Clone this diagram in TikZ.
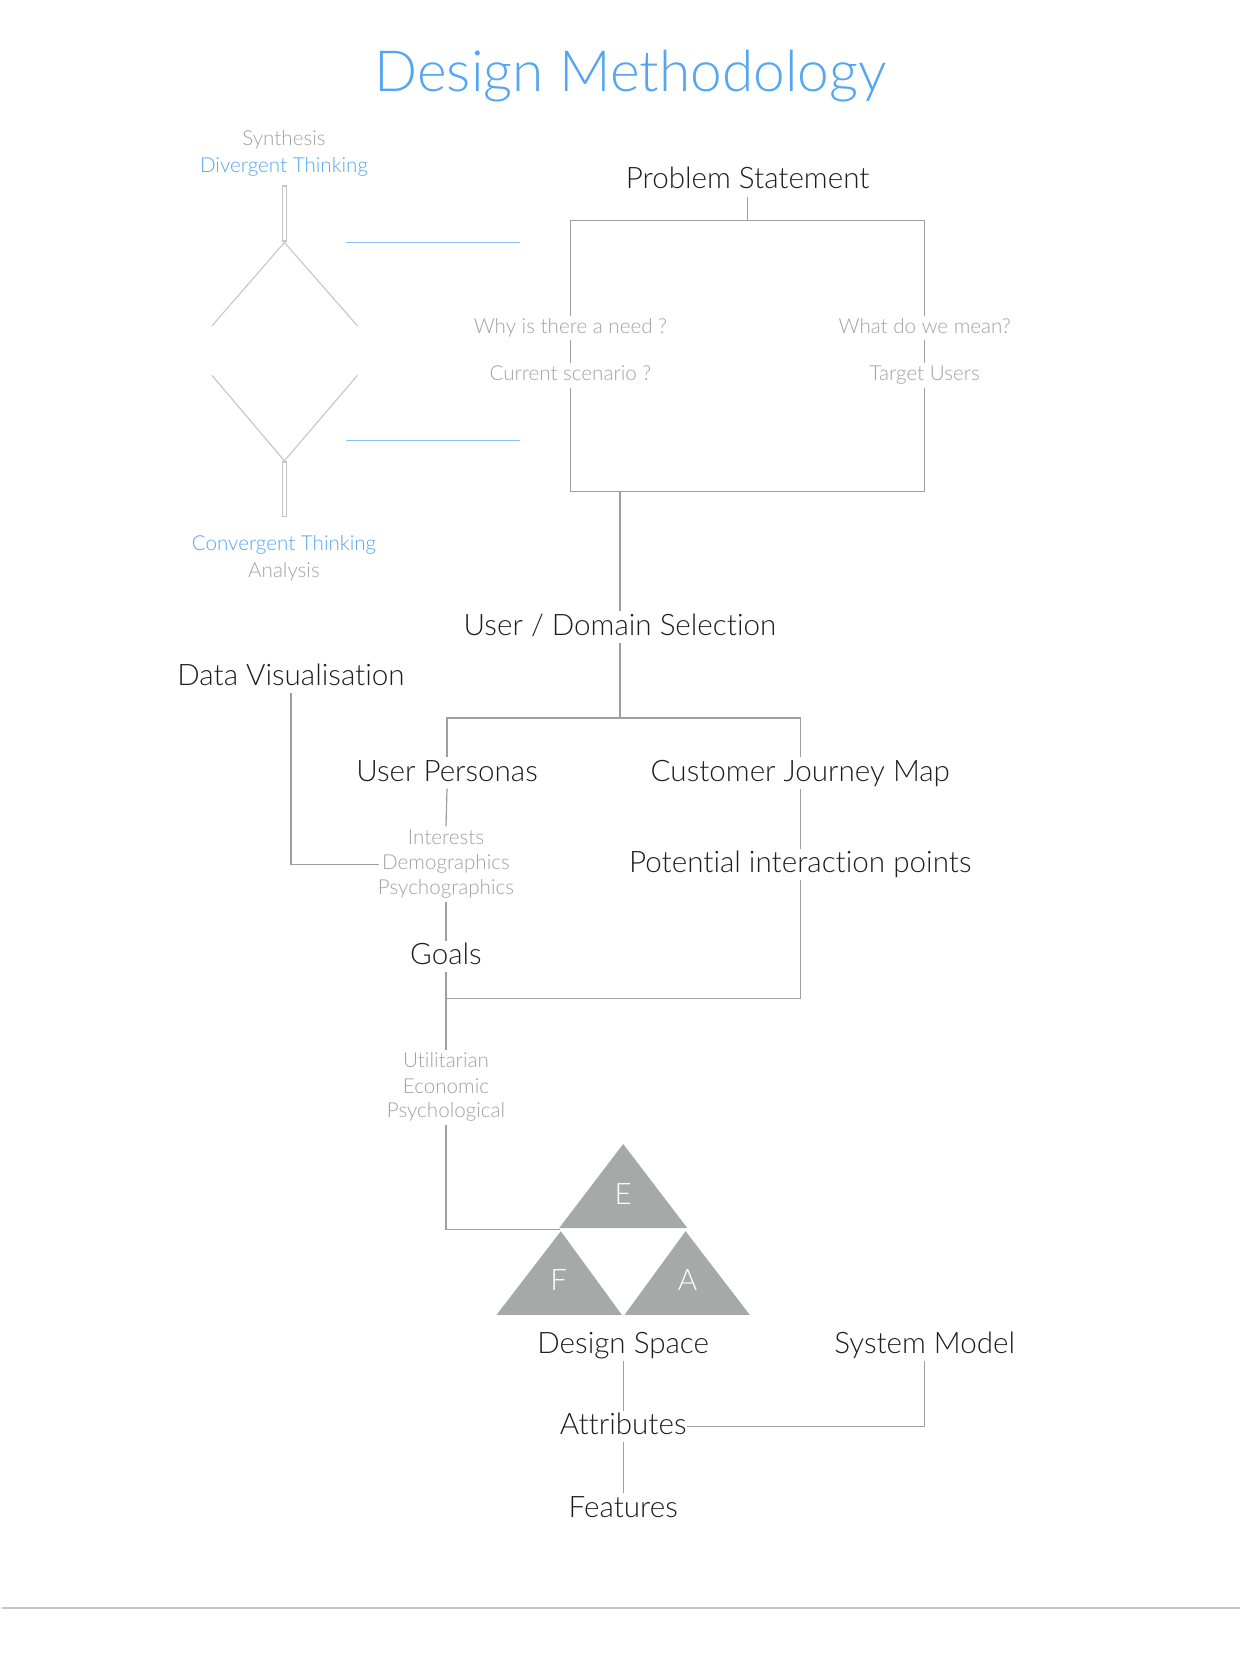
\documentclass[tikz,border=0pt]{standalone}
\usepackage{fontspec}
\setmainfont{Lato Light}[Ligatures=NoCommon]
\definecolor{headC}{HTML}{1E1E1E}
\definecolor{subC}{HTML}{A2A2A2}
\definecolor{blueC}{HTML}{55A6F2}
\definecolor{lineC}{HTML}{9E9E9E}
\definecolor{faintC}{HTML}{C6C6C6}
\definecolor{triC}{HTML}{A6A9A8}
\begin{document}
\begin{tikzpicture}[x=0.5pt,y=-0.5pt,
  head/.style={font=\fontsize{14.8}{18}\selectfont, text=headC, inner xsep=2pt, inner ysep=3pt, text height=0.86em, text depth=0.06em},
  sub/.style={font=\fontsize{10.3}{12}\selectfont, text=subC, fill=white, inner xsep=1.5pt, inner ysep=1.5pt, text height=0.72em, text depth=0.2em},
  bluet/.style={sub, text=blueC},
  conn/.style={draw=lineC, line width=0.6pt},
  faint/.style={draw=faintC, line width=0.55pt},
  bluel/.style={draw=blueC!70, line width=0.6pt},
  tri/.style={fill=triC},
  trilab/.style={font=\fontsize{14.8}{18}\selectfont, text=white, inner sep=0pt}
]
\useasboundingbox (0,0) rectangle (1240,1653);
\fill[white] (0,0) rectangle (1240,1653);

% title
\node[font=\fontsize{28.4}{34}\selectfont, text=blueC, inner sep=0pt] (title) at (630.5,76) {Design Methodology};

% left thinking diagram
\node[sub] (synth) at (284,140) {Synthesis};
\node[bluet] (divt) at (284,167) {Divergent Thinking};
\draw[faint] (282.2,186) rectangle (286.6,241);
\draw[faint] (212,325.8) -- (284.4,242.5) -- (357.4,325.8);
\draw[faint] (212,375.4) -- (284.4,460.8) -- (357.4,375.4);
\draw[faint] (282.2,462) rectangle (286.6,516.7);
\draw[bluel] (346,242.5) -- (520,242.5);
\draw[bluel] (346,440.7) -- (520,440.7);
\node[bluet] (convt) at (284,545) {Convergent Thinking};
\node[sub] (anal) at (284,572) {Analysis};

% problem statement
\node[head] (ps) at (747.6,181) {Problem Statement};
\coordinate (bTL) at (570.4,220.4);
\coordinate (bBR) at (924.7,491.3);
\draw[conn] (bTL) rectangle (bBR);
\draw[conn] (ps.south) -- (ps.south |- bTL);
\node[sub] (why) at (570.4,328) {Why is there a need ?};
\node[sub] (cur) at (570.4,375.5) {Current scenario ?};
\node[sub] (what) at (924.7,328) {What do we mean?};
\node[sub] (tgt) at (924.7,375.5) {Target Users};

% user / domain selection
\node[head] (uds) at (620,627) {User / Domain Selection};
\draw[conn] (uds.north |- bBR) -- (uds.north);
\coordinate (jn1) at (620,718);
\draw[conn] (uds.south) -- (jn1);
\node[head] (up) at (447,773) {User Personas};
\node[head] (cjm) at (800.3,773) {Customer Journey Map};
\draw[conn] (up.north) -- (up.north |- jn1) -- (cjm.north |- jn1) -- (cjm.north);

\node[head] (dv) at (291,677) {Data Visualisation};
\node[sub] (int) at (446,839) {Interests};
\node[sub] (demo) at (446,864.5) {Demographics};
\node[sub] (psy) at (446,889) {Psychographics};
\draw[conn] (dv.south) |- (demo.west);
\draw[conn] (up.south) -- (int.north);
\node[head] (goals) at (446,956.5) {Goals};
\draw[conn] (psy.south) -- (goals.north);
\node[head] (pip) at (800.3,864.5) {Potential interaction points};
\draw[conn] (cjm.south) -- (pip.north);
\coordinate (jn2) at (446,998.5);
\draw[conn] (goals.south) -- (jn2) -| (pip.south);

\node[sub] (util) at (446,1062.5) {Utilitarian};
\node[sub] (econ) at (446,1088) {Economic};
\node[sub] (psyc) at (446,1112.5) {Psychological};
\draw[conn] (jn2) -- (util.north);

% design space triangles
\coordinate (tT) at (623.2,1144);
\coordinate (tL) at (496.6,1314.8);
\coordinate (tR) at (749.7,1314.8);
\coordinate (mL) at (559.9,1229.4);
\coordinate (mR) at (686.5,1229.4);
\coordinate (mB) at (623.2,1314.8);
\fill[tri] (tT) -- (559.0,1228.2) -- (687.4,1228.2) -- cycle;
\fill[tri] (560.8,1231.2) -- (tL) -- (621.8,1314.8) -- cycle;
\fill[tri] (685.6,1231.2) -- (624.6,1314.8) -- (tR) -- cycle;
\draw[conn] (psyc.south) |- (mL);
\node[trilab] (E) at (623.2,1194) {E};
\node[trilab] (F) at (558.8,1280.5) {F};
\node[trilab] (A) at (687.5,1280.5) {A};

\node[head] (ds) at (623.2,1345.5) {Design Space};
\node[head] (sm) at (924.7,1345.5) {System Model};
\node[head, inner xsep=0pt] (attr) at (623.2,1426.5) {Attributes};
\node[head] (feat) at (623.2,1509) {Features};
\draw[conn] (ds.south) -- (attr.north);
\draw[conn] (attr.east) -| (sm.south);
\draw[conn] (attr.south) -- (feat.north);

% bottom rule
\coordinate (ruleL) at (2,1608);
\coordinate (ruleR) at (1240,1608);
\draw[draw=faintC, line width=1pt] (ruleL) -- (ruleR);
\end{tikzpicture}
\end{document}
